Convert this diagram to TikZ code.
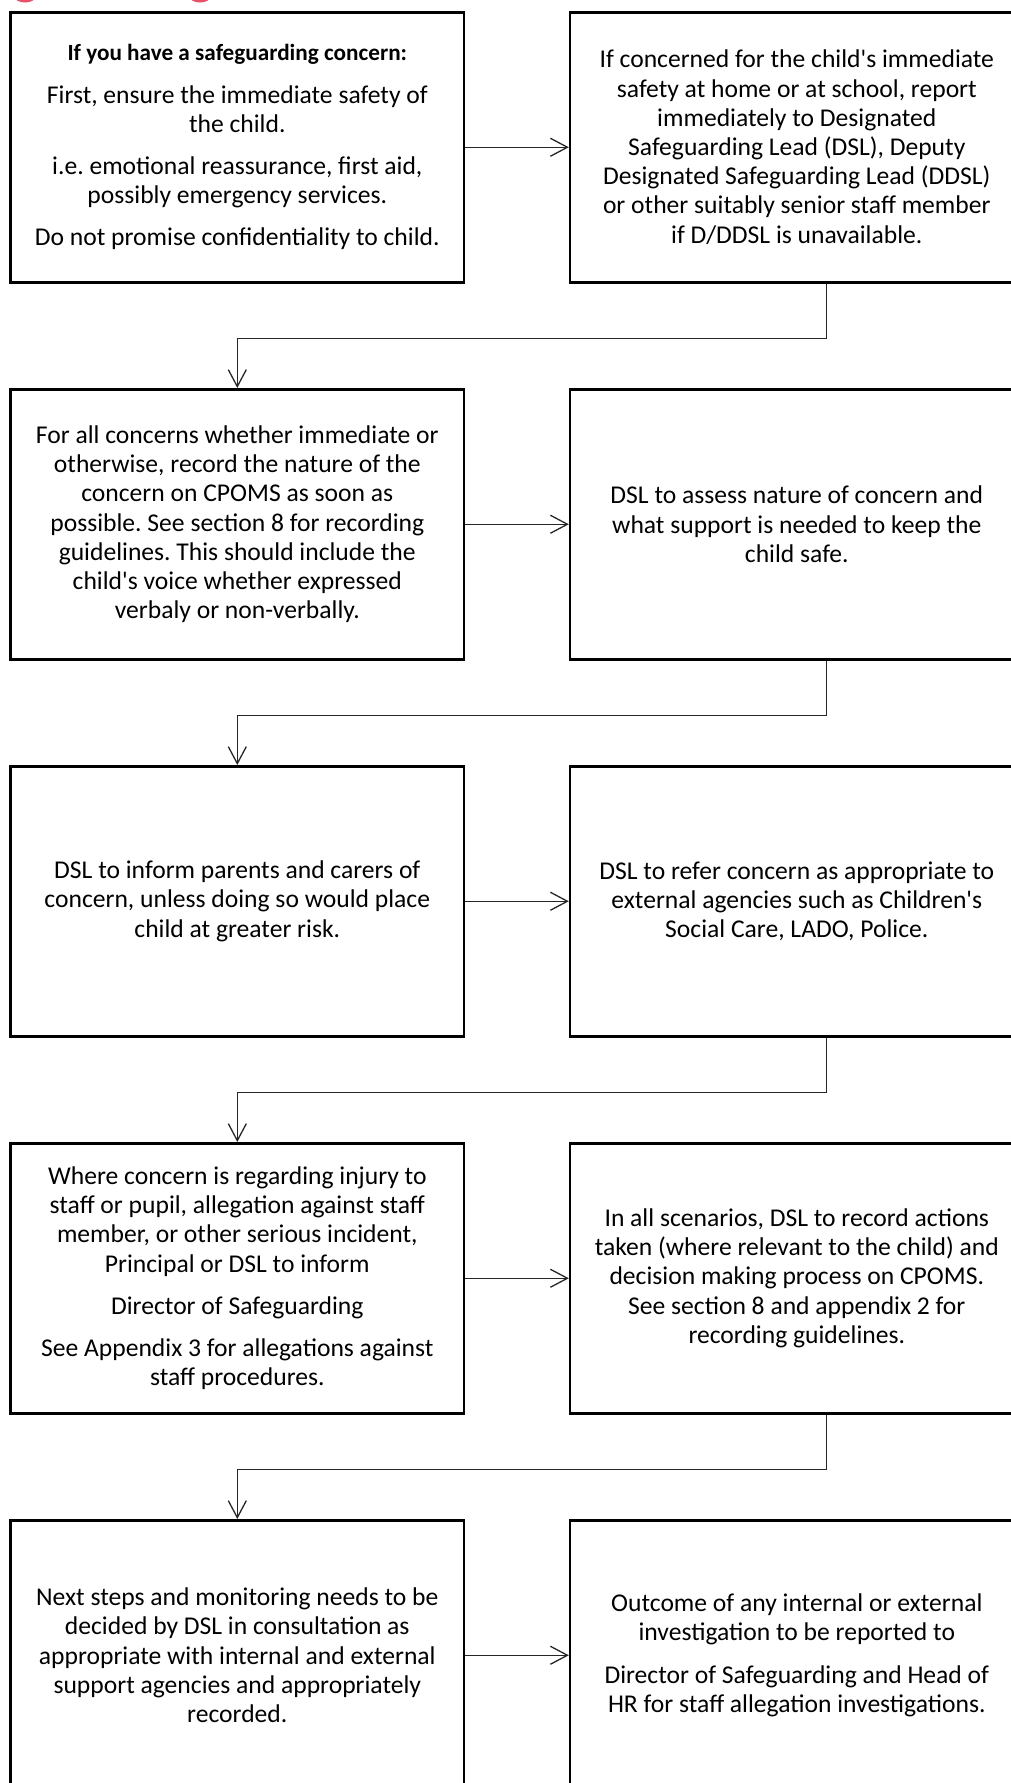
\documentclass[tikz,border=0pt]{standalone}
\usepackage{fontspec}
\setmainfont{Carlito}[Ligatures=TeXOff]
\usetikzlibrary{arrows.meta,calc}
\definecolor{headred}{HTML}{E8506B}
\tikzset{
  flowbox/.style={draw=black, line width=2.5pt, minimum width=453.5pt, minimum height=270pt,
    inner sep=0pt, align=center, anchor=north west,
    font=\fontsize{25.6}{29.2}\selectfont\frenchspacing},
  conn/.style={draw=black!85, line width=1.3pt, -{Straight Barb[length=17pt,width=18pt,line width=1.3pt]}}
}
\newcommand{\pgap}{\\[13pt]}
\newcommand{\headtxt}[1]{{\fontsize{23.2}{29.2}\selectfont\bfseries #1}}
\begin{document}
\begin{tikzpicture}[x=1pt,y=-1pt]
\useasboundingbox (0,0) rectangle (1011,1783);
\clip (0,0) rectangle (1011,1783);
% cut-off heading remnants
\fill[headred] (25,-2.5) ellipse (10 and 5);
\fill[headred] (200,-2.5) ellipse (10 and 5);
% row 1
\node[flowbox] (l1) at (9.3,11) {\headtxt{If you have a safeguarding concern:}\pgap First, ensure the immediate safety of\\ the child.\pgap i.e. emotional reassurance, first aid,\\ possibly emergency services.\pgap Do not promise confidentiality to child.};
\node[flowbox] (r1) at (568.8,11) {If concerned for the child's immediate\\ safety at home or at school, report\\ immediately to Designated\\ Safeguarding Lead (DSL), Deputy\\ Designated Safeguarding Lead (DDSL)\\ or other suitably senior staff member\\ if D/DDSL is unavailable.};
% row 2
\node[flowbox] (l2) at (9.3,388) {For all concerns whether immediate or\\ otherwise, record the nature of the\\ concern on CPOMS as soon as\\ possible. See section 8 for recording\\ guidelines. This should include the\\ child's voice whether expressed\\ verbaly or non-verbally.};
\node[flowbox] (r2) at (568.8,388) {DSL to assess nature of concern and\\ what support is needed to keep the\\ child safe.};
% row 3
\node[flowbox] (l3) at (9.3,765) {DSL to inform parents and carers of\\ concern, unless doing so would place\\ child at greater risk.};
\node[flowbox] (r3) at (568.8,765) {DSL to refer concern as appropriate to\\ external agencies such as Children's\\ Social Care, LADO, Police.};
% row 4
\node[flowbox] (l4) at (9.3,1142) {Where concern is regarding injury to\\ staff or pupil, allegation against staff\\ member, or other serious incident,\\ Principal or DSL to inform\pgap Director of Safeguarding\pgap See Appendix 3 for allegations against\\ staff procedures.};
\node[flowbox] (r4) at (568.8,1142) {In all scenarios, DSL to record actions\\ taken (where relevant to the child) and\\ decision making process on CPOMS.\\ See section 8 and appendix 2 for\\ recording guidelines.};
% row 5
\node[flowbox] (l5) at (9.3,1519) {Next steps and monitoring needs to be\\ decided by DSL in consultation as\\ appropriate with internal and external\\ support agencies and appropriately\\ recorded.};
\node[flowbox] (r5) at (568.8,1519) {Outcome of any internal or external\\ investigation to be reported to\pgap Director of Safeguarding and Head of\\ HR for staff allegation investigations.};
% horizontal arrows
\draw[conn] (l1) -- (r1);
\draw[conn] (l2) -- (r2);
\draw[conn] (l3) -- (r3);
\draw[conn] (l4) -- (r4);
\draw[conn] (l5) -- (r5);
% downward connectors
\foreach \a/\b in {r1/l2, r2/l3, r3/l4, r4/l5}{
  \coordinate (s\a) at ($(\a.south west)+(257.5,0)$);
  \draw[conn] (s\a) -- ++(0,55) -| (\b.north);
}
\end{tikzpicture}
\end{document}
